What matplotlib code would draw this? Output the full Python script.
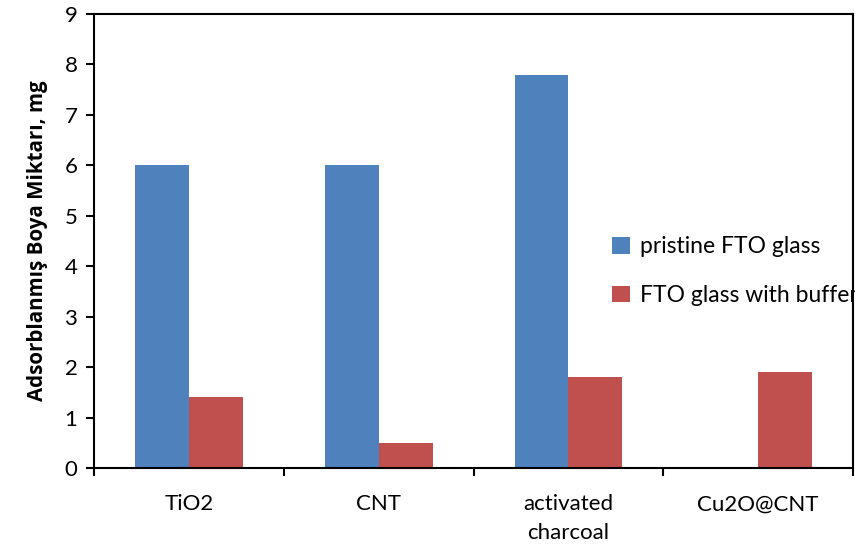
import numpy as np
import matplotlib.pyplot as plt

# data
categories = ["TiO2", "CNT", "activated\ncharcoal", "Cu2O@CNT"]
pristine = [6.0, 6.0, 7.8, 0.0]
buffer = [1.4, 0.5, 1.8, 1.9]
series_names = ["pristine FTO glass", "FTO glass with buffer"]

plt.rcParams['font.family'] = ['Lato', 'DejaVu Sans']

fig = plt.figure(figsize=(8.55, 5.51), dpi=100)
ax = fig.add_axes([0.110, 0.1506, 0.8877, 0.824])

x = np.arange(len(categories))
w = 0.284
ax.bar(x - w / 2, pristine, w, color='#4F81BD', label=series_names[0])
ax.bar(x + w / 2, buffer, w, color='#C0504D', label=series_names[1])

ax.set_xlim(-0.5, len(categories) - 0.5)
ax.set_ylim(0, 9)
ax.set_yticks(range(0, 10))
ax.set_xticks(x, categories)
ax.set_xticks(np.arange(-0.5, len(categories), 1.0), minor=True)
ax.tick_params(axis='x', which='major', length=0, pad=19, labelsize=16)
ax.tick_params(axis='x', which='minor', length=6, width=1.5, direction='out')
ax.tick_params(axis='y', length=6, width=1.5, direction='out', labelsize=16, pad=6)
for lbl in ax.get_xticklabels():
    lbl.set_linespacing(1.55)
for s in ax.spines.values():
    s.set_linewidth(1.5)

ax.set_ylabel("Adsorblanmış Boya Miktarı, mg", fontsize=14.8, fontweight='bold',
              family=['Open Sans', 'DejaVu Sans'], labelpad=12)

# legend sits inside the plot, running past the right edge like the original
ax.legend(loc='upper left', bbox_to_anchor=(601 / 855, 1 - 225 / 551),
          bbox_transform=fig.transFigure, frameon=False, fontsize=16.5,
          handlelength=0.75, handleheight=0.75, handletextpad=0.45,
          labelspacing=1.2, borderpad=0)

fig.savefig("out.png", dpi=100)
